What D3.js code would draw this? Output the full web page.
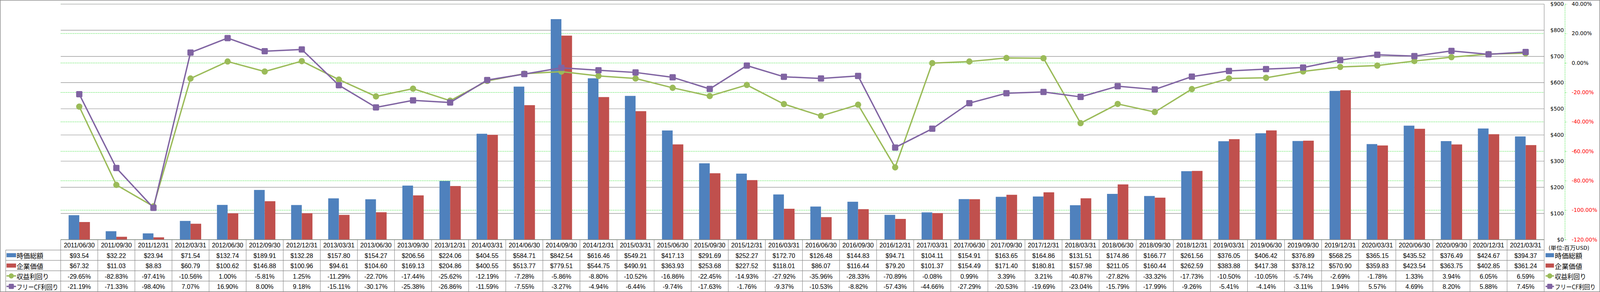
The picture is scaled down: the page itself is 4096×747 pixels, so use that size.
<!DOCTYPE html>
<html><head><meta charset="utf-8">
<script src="https://cdn.jsdelivr.net/npm/d3@7"></script>
<style>html,body{margin:0;padding:0;background:#fff;overflow:hidden}</style>
</head><body>
<svg id="c" width="4096" height="747" viewBox="0 0 5876 1071" preserveAspectRatio="none"></svg>
<script>
const dates = ["2011/06/30","2011/09/30","2011/12/31","2012/03/31","2012/06/30","2012/09/30","2012/12/31","2013/03/31","2013/06/30","2013/09/30","2013/12/31","2014/03/31","2014/06/30","2014/09/30","2014/12/31","2015/03/31","2015/06/30","2015/09/30","2015/12/31","2016/03/31","2016/06/30","2016/09/30","2016/12/31","2017/03/31","2017/06/30","2017/09/30","2017/12/31","2018/03/31","2018/06/30","2018/09/30","2018/12/31","2019/03/31","2019/06/30","2019/09/30","2019/12/31","2020/03/31","2020/06/30","2020/09/30","2020/12/31","2021/03/31"];
const marketCap = [93.54,32.22,23.94,71.54,132.74,189.91,132.28,157.80,154.27,206.56,224.06,404.55,584.71,842.54,616.46,549.21,417.13,291.69,252.27,172.70,126.48,144.83,94.71,104.11,154.91,163.65,164.86,131.51,174.86,166.77,261.56,376.05,406.42,376.89,568.25,365.15,435.52,376.49,424.67,394.37];
const enterpriseValue = [67.32,11.03,8.83,60.79,100.62,146.88,100.96,94.61,104.60,169.13,204.86,400.55,513.77,779.51,544.75,490.91,363.93,253.68,227.52,118.01,86.07,116.44,79.20,101.37,154.49,171.40,180.81,157.98,211.05,160.44,262.59,383.88,417.38,378.12,570.90,359.83,423.54,363.75,402.85,361.24];
const earningsYield = [-29.65,-82.83,-97.41,-10.56,1.00,-5.81,1.25,-11.29,-22.70,-17.44,-25.62,-12.19,-7.28,-5.86,-8.80,-10.52,-16.86,-22.45,-14.93,-27.92,-35.96,-28.33,-70.89,-0.08,0.99,3.39,3.21,-40.87,-27.82,-33.32,-17.73,-10.50,-10.05,-5.74,-2.69,-1.78,1.33,3.94,6.05,6.59];
const fcfYield = [-21.19,-71.33,-98.40,7.07,16.90,8.00,9.18,-15.11,-30.17,-25.38,-26.86,-11.59,-7.55,-3.27,-4.94,-6.44,-9.74,-17.63,-1.76,-9.37,-10.53,-8.82,-57.43,-44.66,-27.29,-20.53,-19.69,-23.04,-15.79,-17.99,-9.26,-5.41,-4.14,-3.11,1.94,5.57,4.69,8.20,5.88,7.45];
const usdTicks = [0,100,200,300,400,500,600,700,800,900];
const pctTicks = [-120,-100,-80,-60,-40,-20,0,20,40];
const seriesNames = ["時価総額","企業価値","収益利回り","フリーCF利回り"];
const unitLabel = "(単位:百万USD)";

const C = {blue:"#4F81BD", red:"#C0504D", green:"#9BBB59", purple:"#8064A2", grid:"#888888", dash:"#22DD22"};
const L = 223, R = 5671, T = 15, B = 879;
const rows = [879, 917, 955, 993, 1031, 1070];
const svg = d3.select("#c");
const latin = "'Liberation Sans', Arial, sans-serif";
const cjk = "'Noto Sans CJK JP', 'Liberation Sans', sans-serif";
const axisFont = "'DejaVu Sans', Verdana, sans-serif";

const x = d3.scaleBand().domain(dates).range([L, R]);
const xb = d3.scaleBand().domain(["mc","ev"]).range([0, x.bandwidth()]).paddingInner(0).paddingOuter(0.74);
const yUsd = d3.scaleLinear().domain([0, 900]).range([B, T]);
const yPct = d3.scaleLinear().domain([-120, 40]).range([B, T]);
const cx = d => x(d) + x.bandwidth() / 2;

// outer frame
svg.append("rect").attr("x", 1).attr("y", 1).attr("width", 5874).attr("height", 1069)
  .attr("fill", "#fff").attr("stroke", C.grid).attr("stroke-width", 2);

// green dashed gridlines (pct)
svg.append("g").selectAll("line").data(pctTicks).join("line")
  .attr("x1", L).attr("x2", R).attr("y1", d => yPct(d)).attr("y2", d => yPct(d))
  .attr("stroke", C.dash).attr("stroke-width", 1.3).attr("stroke-dasharray", "4,2.5");
// gray gridlines (usd)
svg.append("g").selectAll("line").data(usdTicks).join("line")
  .attr("x1", L).attr("x2", R).attr("y1", d => yUsd(d)).attr("y2", d => yUsd(d))
  .attr("stroke", C.grid).attr("stroke-width", 1.6);
// plot right border
svg.append("line").attr("x1", R).attr("x2", R).attr("y1", T).attr("y2", B)
  .attr("stroke", C.grid).attr("stroke-width", 1.6);

// bars
const bars = svg.append("g");
bars.selectAll(".mc").data(dates).join("rect").attr("class", "mc")
  .attr("x", d => x(d) + xb("mc")).attr("width", xb.bandwidth())
  .attr("y", (d, i) => yUsd(marketCap[i])).attr("height", (d, i) => B - yUsd(marketCap[i]))
  .attr("fill", C.blue);
bars.selectAll(".ev").data(dates).join("rect").attr("class", "ev")
  .attr("x", d => x(d) + xb("ev")).attr("width", xb.bandwidth())
  .attr("y", (d, i) => yUsd(enterpriseValue[i])).attr("height", (d, i) => B - yUsd(enterpriseValue[i]))
  .attr("fill", C.red);

// lines
const line = vals => d3.line().x((d, i) => cx(dates[i])).y(d => yPct(d))(vals);
svg.append("path").attr("d", line(earningsYield)).attr("fill", "none")
  .attr("stroke", C.green).attr("stroke-width", 5).attr("stroke-linejoin", "round");
svg.append("g").selectAll("circle").data(earningsYield).join("circle")
  .attr("cx", (d, i) => cx(dates[i])).attr("cy", d => yPct(d)).attr("r", 11.5).attr("fill", C.green);
svg.append("path").attr("d", line(fcfYield)).attr("fill", "none")
  .attr("stroke", C.purple).attr("stroke-width", 5).attr("stroke-linejoin", "round");
svg.append("g").selectAll("rect").data(fcfYield).join("rect")
  .attr("x", (d, i) => cx(dates[i]) - 11.5).attr("y", d => yPct(d) - 11.5)
  .attr("width", 23).attr("height", 23).attr("rx", 3.5).attr("fill", C.purple);

// usd axis
const ax1 = svg.append("g").attr("transform", "translate(5747,0)")
  .call(d3.axisLeft(yUsd).tickValues(usdTicks).tickFormat(d => "$" + d).tickSize(0).tickPadding(4));
ax1.select(".domain").remove();
ax1.selectAll("text").attr("font-family", axisFont).attr("font-size", 19.5).attr("fill", "#000");

// pct axis
const ax2 = svg.append("g").attr("transform", "translate(5747,0)")
  .call(d3.axisRight(yPct).tickValues(pctTicks).tickFormat(d => d.toFixed(2) + "%").tickSizeInner(8).tickSizeOuter(0).tickPadding(17));
ax2.select(".domain").attr("stroke", C.dash).attr("stroke-width", 1.3).attr("stroke-dasharray", "4,2.5");
ax2.selectAll(".tick line").attr("stroke", C.dash).attr("stroke-width", 1.3).attr("stroke-dasharray", "4,2.5");
ax2.selectAll("text").attr("font-family", axisFont).attr("font-size", 19.5)
  .attr("fill", d => d < 0 ? "#FF0000" : "#000");

// unit label
svg.append("text").attr("x", 5687).attr("y", 908).attr("dominant-baseline", "central")
  .attr("font-family", cjk).attr("font-size", 19).attr("textLength", 150).attr("lengthAdjust", "spacingAndGlyphs")
  .text(unitLabel);

// table grid
const tg = svg.append("g").attr("stroke", C.grid).attr("stroke-width", 1.6);
tg.append("line").attr("x1", L).attr("x2", R).attr("y1", rows[0]).attr("y2", rows[0]);
rows.slice(1).forEach(y => tg.append("line").attr("x1", 21).attr("x2", R).attr("y1", y).attr("y2", y));
tg.append("line").attr("x1", 21).attr("x2", 21).attr("y1", rows[1]).attr("y2", rows[5]);
tg.selectAll(".vl").data(dates.concat(["end"])).join("line").attr("class", "vl")
  .attr("x1", (d, i) => i < dates.length ? x(d) : R).attr("x2", (d, i) => i < dates.length ? x(d) : R)
  .attr("y1", rows[0]).attr("y2", rows[5]);

// table text
const fmtUsd = v => "$" + v.toFixed(2);
const fmtPct = v => v.toFixed(2) + "%";
const rowData = [
  {vals: dates, f: d => d},
  {vals: marketCap, f: fmtUsd},
  {vals: enterpriseValue, f: fmtUsd},
  {vals: earningsYield, f: fmtPct},
  {vals: fcfYield, f: fmtPct}
];
rowData.forEach((r, ri) => {
  svg.append("g").selectAll("text").data(r.vals).join("text")
    .attr("x", (d, i) => cx(dates[i])).attr("y", (rows[ri] + rows[ri + 1]) / 2 + 1)
    .attr("text-anchor", "middle").attr("dominant-baseline", "central")
    .attr("font-family", latin).attr("font-size", 23).attr("fill", "#000")
    .text(d => r.f(d));
});

// legend keys
function legendKey(g, k, x0, w, yc) {
  if (k === 0 || k === 1) {
    g.append("rect").attr("x", x0).attr("y", yc - 7.5).attr("width", w).attr("height", 15)
      .attr("fill", k === 0 ? C.blue : C.red);
  } else {
    const col = k === 2 ? C.green : C.purple;
    g.append("line").attr("x1", x0).attr("x2", x0 + w).attr("y1", yc).attr("y2", yc)
      .attr("stroke", col).attr("stroke-width", 5);
    if (k === 2) g.append("circle").attr("cx", x0 + w / 2).attr("cy", yc).attr("r", 9.5).attr("fill", col);
    else g.append("rect").attr("x", x0 + w / 2 - 9.5).attr("y", yc - 9.5).attr("width", 19).attr("height", 19)
      .attr("rx", 3).attr("fill", col);
  }
}
const tblTextW = [98, 98, 119, 153];
const sideTextW = [101, 101, 115, 150];
seriesNames.forEach((name, k) => {
  const yc = (rows[k + 1] + rows[k + 2]) / 2;
  const g1 = svg.append("g");
  legendKey(g1, k, 24, 35, yc);
  g1.append("text").attr("x", 61).attr("y", yc + 1).attr("dominant-baseline", "central")
    .attr("font-family", cjk).attr("font-size", 25).attr("textLength", tblTextW[k])
    .attr("lengthAdjust", "spacingAndGlyphs").text(name);
  const g2 = svg.append("g");
  legendKey(g2, k, 5676, 31, yc);
  g2.append("text").attr("x", 5710).attr("y", yc + 1).attr("dominant-baseline", "central")
    .attr("font-family", cjk).attr("font-size", k === 3 ? 23 : 25).attr("textLength", sideTextW[k])
    .attr("lengthAdjust", "spacingAndGlyphs").text(name);
});
</script>
</body></html>
